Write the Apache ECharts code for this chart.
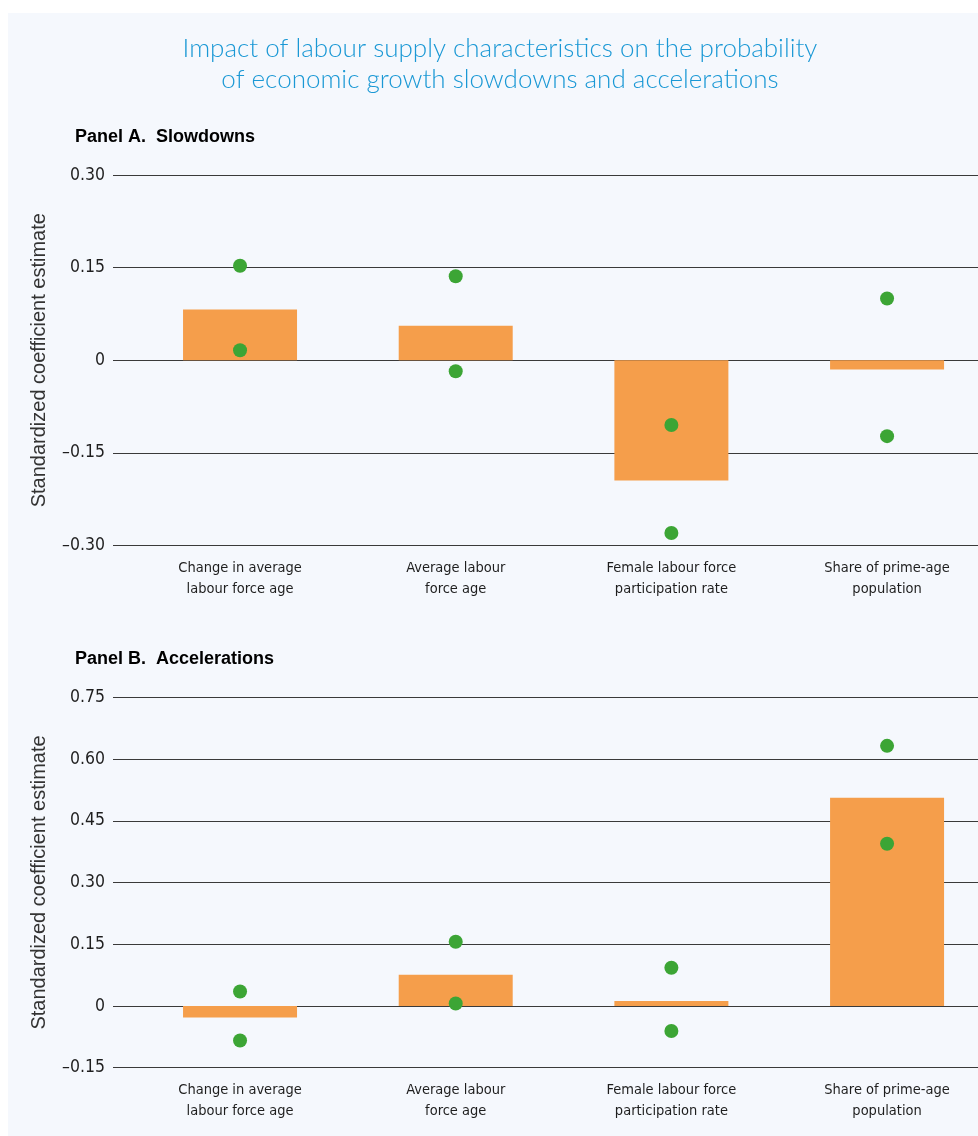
<!DOCTYPE html>
<html>
<head>
<meta charset="utf-8">
<script src="https://cdn.jsdelivr.net/npm/echarts@6/dist/echarts.min.js"></script>
<style>
html,body{margin:0;padding:0;background:#ffffff;overflow:hidden;}
#bg{position:absolute;left:8px;top:13px;width:970px;height:1123px;background:#f5f8fd;}
#chart{position:absolute;left:0;top:0;width:978px;height:1136px;}
</style>
</head>
<body>
<div id="bg"></div>
<div id="chart"></div>
<script>
// ---- Data ----
const chartTitle = 'Impact of labour supply characteristics on the probability\nof economic growth slowdowns and accelerations';
const panelATitle = 'Panel A.  Slowdowns';
const panelBTitle = 'Panel B.  Accelerations';
const yAxisName = 'Standardized coefficient estimate';
const categories = [
  'Change in average\nlabour force age',
  'Average labour\nforce age',
  'Female labour force\nparticipation rate',
  'Share of prime-age\npopulation'
];
// Panel A: Slowdowns
const slowCoef  = [0.082, 0.056, -0.195, -0.015];
const slowUpper = [0.153, 0.136, -0.105, 0.100];
const slowLower = [0.016, -0.018, -0.280, -0.123];
const slowTicks = ['\u20130.30', '\u20130.15', '0', '0.15', '0.30'];
// Panel B: Accelerations
const accCoef  = [-0.028, 0.076, 0.012, 0.506];
const accUpper = [0.035, 0.156, 0.093, 0.632];
const accLower = [-0.084, 0.006, -0.061, 0.394];
const accTicks = ['\u20130.15', '0', '0.15', '0.30', '0.45', '0.60', '0.75'];

// ---- Styles ----
const NARROW = "'DejaVu Sans Condensed','Liberation Sans Narrow',sans-serif";
const SANS = "'Liberation Sans',Arial,Helvetica,sans-serif";
const BAR = '#f59e4b';
const DOT = '#3ca535';
const GRIDLINE = '#3a3a3a';
const TEXT = '#1e1e1e';

const chart = echarts.init(document.getElementById('chart'), null, {renderer: 'canvas'});

const gridH = 370.4;
const topA = 175, topB = 697.3;

function lineYAxis(gridIndex, min, max, ticks) {
  return {
    type: 'value', gridIndex, min, max, interval: 0.15,
    axisLine: {show: false}, axisTick: {show: false},
    axisLabel: {
      margin: 8, fontSize: 17.5, fontFamily: NARROW, color: TEXT,
      formatter: (v, i) => ticks[i]
    },
    splitLine: {show: true, lineStyle: {color: GRIDLINE, width: 1.2}},
    name: yAxisName, nameLocation: 'middle', nameGap: 64,
    nameTextStyle: {fontSize: 20, fontFamily: SANS, color: '#333'}
  };
}
function dataYAxis(gridIndex, min, max) {
  return {type: 'value', gridIndex, min, max, interval: 0.15, show: false, splitLine: {show: false}};
}
function catXAxis(gridIndex) {
  return {
    type: 'category', gridIndex, data: categories,
    axisLine: {show: false}, axisTick: {show: false},
    axisLabel: {margin: 12, fontSize: 14.5, lineHeight: 21, fontFamily: NARROW, color: TEXT, interval: 0}
  };
}

const option = {
  animation: false,
  backgroundColor: 'transparent',
  title: [
    {text: chartTitle, left: 500, top: 33, padding: 0, textAlign: 'center',
     textStyle: {fontSize: 26, lineHeight: 31, fontWeight: 300, fontFamily: "Lato, 'Open Sans', sans-serif", color: '#1a98d5'}},
    {text: panelATitle, left: 75, top: 128, padding: 0,
     textStyle: {fontSize: 18, fontWeight: 'bold', fontFamily: SANS, color: '#000'}},
    {text: panelBTitle, left: 75, top: 650, padding: 0,
     textStyle: {fontSize: 18, fontWeight: 'bold', fontFamily: SANS, color: '#000'}}
  ],
  grid: [
    {left: 113, right: 0, top: topA, height: gridH, outerBoundsMode: 'none'},
    {left: 132.2, width: 862.7, top: topA, height: gridH, outerBoundsMode: 'none'},
    {left: 113, right: 0, top: topB, height: gridH, outerBoundsMode: 'none'},
    {left: 132.2, width: 862.7, top: topB, height: gridH, outerBoundsMode: 'none'}
  ],
  xAxis: [
    {type: 'value', gridIndex: 0, min: 0, max: 1, show: false},
    catXAxis(1),
    {type: 'value', gridIndex: 2, min: 0, max: 1, show: false},
    catXAxis(3)
  ],
  yAxis: [
    lineYAxis(0, -0.3, 0.3, slowTicks),
    dataYAxis(1, -0.3, 0.3),
    lineYAxis(2, -0.15, 0.75, accTicks),
    dataYAxis(3, -0.15, 0.75)
  ],
  series: [
    {type: 'bar', xAxisIndex: 1, yAxisIndex: 1, data: slowCoef, barWidth: 114, itemStyle: {color: BAR}, z: 2},
    {type: 'scatter', xAxisIndex: 1, yAxisIndex: 1, data: slowUpper, symbolSize: 14, itemStyle: {color: DOT, opacity: 1}, z: 3},
    {type: 'scatter', xAxisIndex: 1, yAxisIndex: 1, data: slowLower, symbolSize: 14, itemStyle: {color: DOT, opacity: 1}, z: 3},
    {type: 'bar', xAxisIndex: 3, yAxisIndex: 3, data: accCoef, barWidth: 114, itemStyle: {color: BAR}, z: 2},
    {type: 'scatter', xAxisIndex: 3, yAxisIndex: 3, data: accUpper, symbolSize: 14, itemStyle: {color: DOT, opacity: 1}, z: 3},
    {type: 'scatter', xAxisIndex: 3, yAxisIndex: 3, data: accLower, symbolSize: 14, itemStyle: {color: DOT, opacity: 1}, z: 3}
  ]
};
chart.setOption(option);
</script>
</body>
</html>
